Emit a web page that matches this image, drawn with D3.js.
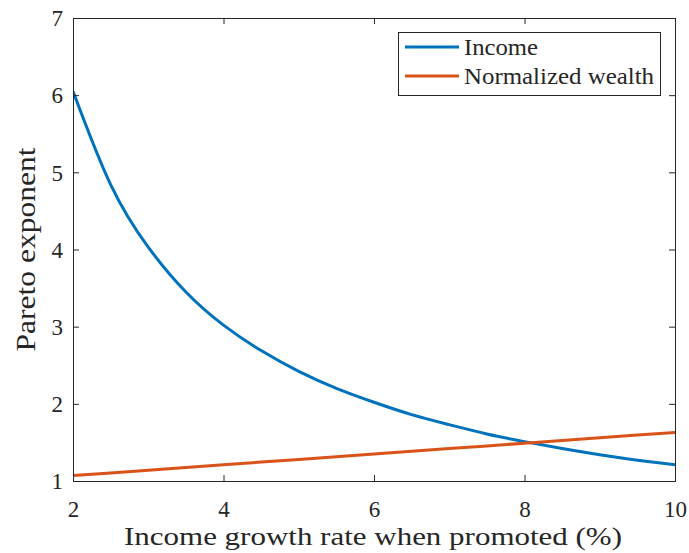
<!DOCTYPE html>
<html><head><meta charset="utf-8">
<script src="https://cdn.jsdelivr.net/npm/d3@7"></script>
<style>
body{margin:0;background:#fff}svg{display:block}
</style>
</head><body>
<svg id="c" width="689" height="553"></svg>
<script>
const xValues = [2,2.5,3,3.5,4,4.5,5,5.5,6,6.5,7,7.5,8,8.5,9,9.5,10];
const incomeValues = [6.05,4.84,4.03,3.45,3.02,2.69,2.42,2.2,2.02,1.86,1.73,1.61,1.51,1.42,1.34,1.27,1.21];
const wealthX = [2,3,4,5,6,7,8,9,10];
const wealthValues = [1.07,1.14,1.21,1.28,1.35,1.42,1.49,1.56,1.63];
const xTicks = [2,4,6,8,10];
const yTicks = [1,2,3,4,5,6,7];
const seriesNames = ["Income","Normalized wealth"];
const colors = ["#0072BD","#D95319"];
const FONT = "Liberation Serif, serif";

const svg = d3.select("#c");
const L=73,R=675,T=18,B=481;
const x = d3.scaleLinear().domain([2,10]).range([L,R]);
const y = d3.scaleLinear().domain([1,7]).range([B,T]);
const ax = "#262626";

const line = d3.line().x(d=>x(d[0])).y(d=>y(d[1])).curve(d3.curveNatural);
const series = [xValues.map((v,i)=>[v,incomeValues[i]]), wealthX.map((v,i)=>[v,wealthValues[i]])];
svg.append("clipPath").attr("id","cp").append("rect").attr("x",L).attr("y",T-2).attr("width",R-L).attr("height",B-T+2);
series.forEach((s,i)=>{
  svg.append("path").datum(s).attr("d",line).attr("fill","none").attr("stroke",colors[i]).attr("stroke-width",3).attr("clip-path","url(#cp)");
});

const tl = 6;
const gx = svg.append("g").attr("transform",`translate(0,${B})`).call(d3.axisBottom(x).tickValues(xTicks).tickSize(-tl).tickFormat(d3.format("d")));
const gxt = svg.append("g").attr("transform",`translate(0,${T})`).call(d3.axisTop(x).tickValues(xTicks).tickSize(-tl).tickFormat(""));
const gy = svg.append("g").attr("transform",`translate(${L},0)`).call(d3.axisLeft(y).tickValues(yTicks).tickSize(-tl).tickPadding(10).tickFormat(d3.format("d")));
const gyr = svg.append("g").attr("transform",`translate(${R},0)`).call(d3.axisRight(y).tickValues(yTicks).tickSize(-tl).tickFormat(""));
[gx,gxt,gy,gyr].forEach(g=>{
  g.attr("font-family",null).attr("font-size",null);
  g.selectAll("path").attr("stroke",ax).attr("stroke-width",1);
  g.selectAll("line").attr("stroke",ax).attr("stroke-width",1);
  g.selectAll("text").attr("font-size",23).attr("fill",ax);
});
gy.selectAll("text").attr("dy","0.34em");
gx.selectAll("text").attr("y",36).attr("dy",0);

svg.append("text").attr("x",(L+R)/2 - 1).attr("y",545).attr("text-anchor","middle")
  .attr("font-size",26).attr("fill",ax)
  .attr("textLength",498).attr("lengthAdjust","spacingAndGlyphs").text("Income growth rate when promoted (%)");
svg.append("text").attr("transform",`translate(35,${(T+B)/2}) rotate(-90)`).attr("text-anchor","middle")
  .attr("font-size",27).attr("fill",ax)
  .attr("textLength",204).attr("lengthAdjust","spacingAndGlyphs").text("Pareto exponent");

const lg = svg.append("g");
lg.append("rect").attr("x",398.5).attr("y",32.5).attr("width",262).attr("height",63).attr("fill","#fff").attr("stroke",ax).attr("stroke-width",1);
const lw=[74,190];
seriesNames.forEach((n,i)=>{
  const yy = 47 + i*29;
  lg.append("line").attr("x1",405).attr("x2",459).attr("y1",yy).attr("y2",yy).attr("stroke",colors[i]).attr("stroke-width",3);
  lg.append("text").attr("x",464).attr("y",yy).attr("dy","0.33em")
    .attr("font-size",24).attr("fill",ax)
    .attr("textLength",lw[i]).attr("lengthAdjust","spacingAndGlyphs").text(n);
});
svg.selectAll("text").attr("font-family",FONT).style("font-family",FONT);
if (document.fonts && document.fonts.load) {
  document.fonts.load('24px "Liberation Serif"').then(()=>{
    svg.selectAll("text").style("font-family","Liberation Serif, Tinos, serif");
  }).catch(()=>{});
}
</script>
</body></html>
